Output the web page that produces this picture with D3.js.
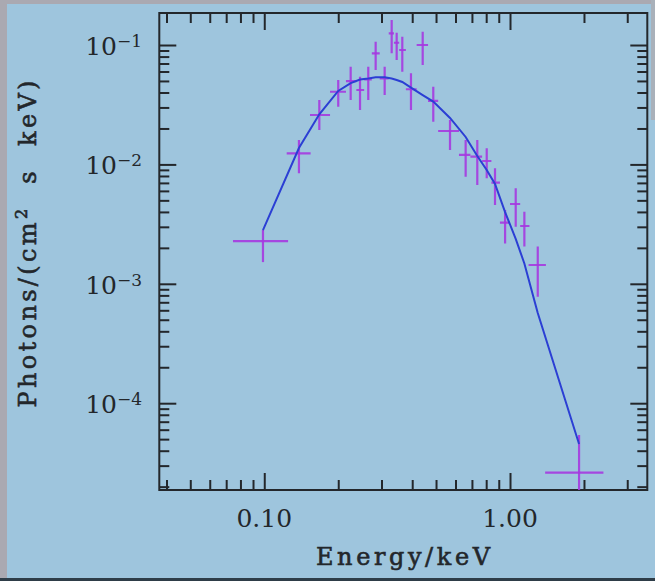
<!DOCTYPE html>
<html>
<head>
<meta charset="utf-8">
<script src="https://cdn.jsdelivr.net/npm/d3@7/dist/d3.min.js"></script>
<style>
  html, body { margin: 0; padding: 0; background: #9ec5dd; }
  svg { display: block; }
</style>
</head>
<body>
<div id="chart"></div>
<script>
// ========================= DATA ==================================
// bin centres and bin edges (keV)
const energy   = [0.0988, 0.1384, 0.1675, 0.200, 0.2247, 0.2453, 0.265, 0.284, 0.309, 0.330, 0.3458, 0.3645, 0.3954,
                  0.4413, 0.4873, 0.570, 0.660, 0.736, 0.804, 0.869, 0.955, 1.055, 1.144, 1.297, 1.910];
const energyLo = [0.0746, 0.1234, 0.1535, 0.1852, 0.215, 0.237, 0.255, 0.274, 0.295, 0.321, 0.337, 0.354, 0.377,
                  0.417, 0.464, 0.510, 0.620, 0.690, 0.770, 0.840, 0.910, 1.000, 1.100, 1.190, 1.390];
const energyHi = [0.125, 0.1544, 0.1852, 0.215, 0.2378, 0.255, 0.274, 0.295, 0.321, 0.337, 0.354, 0.377, 0.417,
                  0.464, 0.510, 0.620, 0.690, 0.770, 0.840, 0.910, 1.000, 1.100, 1.200, 1.400, 2.400];

// measured flux, photons/(cm2 s keV), with lower / upper error bounds
const flux   = [2.28e-3, 0.01239, 0.02594, 0.0406, 0.0499, 0.0420, 0.0516, 0.0852, 0.0526, 0.1253, 0.1045, 0.0908, 0.0426,
                0.1000, 0.0340, 0.01905, 0.0120, 0.0116, 0.01068, 7.03e-3, 3.25e-3, 4.66e-3, 3.05e-3, 1.437e-3, 2.62e-5];
const fluxLo = [1.52e-3, 8.42e-3, 0.0194, 0.0304, 0.0346, 0.02855, 0.0346, 0.0617, 0.0381, 0.0852, 0.0749, 0.0598, 0.02855,
                0.0680, 0.0228, 0.0132, 7.88e-3, 6.72e-3, 7.65e-3, 4.57e-3, 2.18e-3, 3.01e-3, 2.05e-3, 7.8e-4, 1.0e-5];
const fluxHi = [2.82e-3, 0.0160, 0.0346, 0.0509, 0.0658, 0.0543, 0.0658, 0.1066, 0.0658, 0.162, 0.1265, 0.1174, 0.0580,
                0.1292, 0.0448, 0.02355, 0.0160, 0.0160, 0.01365, 9.27e-3, 4.15e-3, 6.3e-3, 4.02e-3, 2.05e-3, 5.42e-5];

// fitted model evaluated at the bin centres
const model = [2.82e-3, 0.01372, 0.0263, 0.0412, 0.0480, 0.0514, 0.0524, 0.0536, 0.0536, 0.0524, 0.0509, 0.0490, 0.0439,
               0.0381, 0.0336, 0.0245, 0.01697, 0.01176, 8.98e-3, 6.85e-3, 3.99e-3, 2.38e-3, 1.48e-3, 5.7e-4, 4.55e-5];

const xTickValues = [0.1, 1];
const xTickLabels = ['0.10', '1.00'];
const yTickValues = [1e-1, 1e-2, 1e-3, 1e-4];
const yTickExps   = ['\u22121', '\u22122', '\u22123', '\u22124'];

// ========================= CHART ==================================
const W = 655, H = 581;
const frame = {left: 159.3, right: 647.3, top: 13, bottom: 490};
const ink = '#23272b';
const dataColour = '#a538e0';
const modelColour = '#2b3fd4';

const svg = d3.select('#chart').append('svg')
    .attr('width', W)
    .attr('height', H);

svg.append('rect')
    .attr('width', W).attr('height', H)
    .attr('fill', '#9ec5dd');

// grey photo borders
svg.append('rect').attr('x', 0).attr('y', 0).attr('width', 7).attr('height', H).attr('fill', '#aaa9b1');
svg.append('rect').attr('x', 0).attr('y', 0).attr('width', W).attr('height', 4).attr('fill', '#aaa9b1');
svg.append('rect').attr('x', 651).attr('y', 0).attr('width', 4).attr('height', 120).attr('fill', '#a9b1ba');
svg.append('rect').attr('x', 0).attr('y', 578).attr('width', W).attr('height', 3).attr('fill', '#2e3d48');

const x = d3.scaleLog().domain([0.0374, 3.62]).range([frame.left, frame.right]);
const y = d3.scaleLog().domain([1.875e-5, 0.1854]).range([frame.bottom, frame.top]);

const isMajor = d => Math.abs(Math.log10(d) - Math.round(Math.log10(d))) < 1e-6;
const xMinor = x.ticks().filter(d => !isMajor(d));
const xMajor = x.ticks().filter(isMajor);
const yMinor = y.ticks().filter(d => !isMajor(d));
const yMajor = y.ticks().filter(isMajor);

const axes = svg.append('g').attr('class', 'axes');

function tickAxis(axisFn, scale, values, size, transform) {
    axes.append('g')
        .attr('transform', transform)
        .call(axisFn(scale).tickValues(values).tickSize(size).tickSizeOuter(0).tickFormat(''))
        .call(g => g.select('.domain').remove())
        .call(g => g.selectAll('.tick line').attr('stroke', ink).attr('stroke-width', 2));
}

// all ticks point into the plot
tickAxis(d3.axisTop, x, xMinor, 10, `translate(0, ${frame.bottom})`);
tickAxis(d3.axisTop, x, xMajor, 17, `translate(0, ${frame.bottom})`);
tickAxis(d3.axisBottom, x, xMinor, 10, `translate(0, ${frame.top})`);
tickAxis(d3.axisBottom, x, xMajor, 17, `translate(0, ${frame.top})`);
tickAxis(d3.axisRight, y, yMinor, 10, `translate(${frame.left}, 0)`);
tickAxis(d3.axisRight, y, yMajor, 17, `translate(${frame.left}, 0)`);
tickAxis(d3.axisLeft, y, yMinor, 10, `translate(${frame.right}, 0)`);
tickAxis(d3.axisLeft, y, yMajor, 17, `translate(${frame.right}, 0)`);

axes.append('rect')
    .attr('x', frame.left)
    .attr('y', frame.top)
    .attr('width', frame.right - frame.left)
    .attr('height', frame.bottom - frame.top)
    .attr('fill', 'none')
    .attr('stroke', ink)
    .attr('stroke-width', 2);

// tick labels
const font = 'DejaVu Serif, Liberation Serif, serif';

svg.append('g').selectAll('text')
    .data(xTickValues)
    .enter()
    .append('text')
    .attr('x', d => x(d))
    .attr('y', 527)
    .attr('text-anchor', 'middle')
    .attr('font-family', font)
    .attr('font-size', 25)
    .attr('fill', ink)
    .text((d, i) => xTickLabels[i]);

const yLab = svg.append('g').selectAll('text')
    .data(yTickValues)
    .enter()
    .append('text')
    .attr('x', 142)
    .attr('y', d => y(d) + 10)
    .attr('text-anchor', 'end')
    .attr('font-family', font)
    .attr('font-size', 25)
    .attr('fill', ink);

yLab.append('tspan').text('10');
yLab.append('tspan')
    .attr('dy', -8)
    .attr('font-size', 17)
    .text((d, i) => yTickExps[i]);

// axis titles, regular face thickened a little
svg.append('text')
    .attr('x', 403)
    .attr('y', 565)
    .attr('text-anchor', 'middle')
    .attr('font-family', font)
    .attr('font-size', 24)
    .attr('fill', ink)
    .attr('stroke', ink)
    .attr('stroke-width', 0.6)
    .attr('textLength', 174)
    .attr('lengthAdjust', 'spacing')
    .text('Energy/keV');

const yTitle = svg.append('text')
    .attr('transform', 'translate(36, 244) rotate(-90)')
    .attr('text-anchor', 'middle')
    .attr('font-family', font)
    .attr('font-size', 24)
    .attr('fill', ink)
    .attr('stroke', ink)
    .attr('stroke-width', 0.6)
    .attr('textLength', 327)
    .attr('lengthAdjust', 'spacing');

yTitle.append('tspan').text('Photons/(cm');
yTitle.append('tspan').attr('dy', -9).attr('font-size', 16).text('2');
yTitle.append('tspan').attr('dy', 9).text('\u00a0\u00a0s\u00a0\u00a0keV)');

// ========================= DATA MARKS ==================================
svg.append('clipPath')
    .attr('id', 'plot-clip')
    .append('rect')
    .attr('x', frame.left)
    .attr('y', frame.top)
    .attr('width', frame.right - frame.left)
    .attr('height', frame.bottom - frame.top);

const points = energy.map((e, i) => ({
    e: e, lo: energyLo[i], hi: energyHi[i],
    f: flux[i], fLo: fluxLo[i], fHi: fluxHi[i], m: model[i]
}));

const plot = svg.append('g').attr('clip-path', 'url(#plot-clip)');

const bars = plot.append('g')
    .attr('stroke', dataColour)
    .attr('stroke-width', 2.2)
    .attr('stroke-opacity', 0.9)
    .selectAll('g')
    .data(points)
    .enter()
    .append('g');

bars.append('line')
    .attr('x1', d => x(d.lo))
    .attr('x2', d => x(d.hi))
    .attr('y1', d => y(d.f))
    .attr('y2', d => y(d.f));

bars.append('line')
    .attr('x1', d => x(d.e))
    .attr('x2', d => x(d.e))
    .attr('y1', d => y(d.fLo))
    .attr('y2', d => y(d.fHi));

const line = d3.line()
    .x(d => x(d.e))
    .y(d => y(d.m));

plot.append('path')
    .datum(points)
    .attr('d', line)
    .attr('fill', 'none')
    .attr('stroke', modelColour)
    .attr('stroke-width', 2);
</script>
</body>
</html>
